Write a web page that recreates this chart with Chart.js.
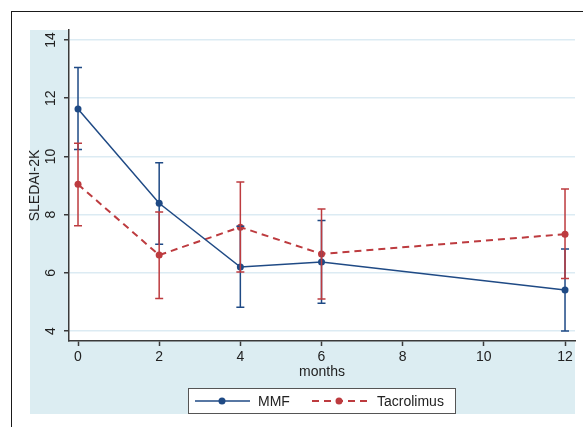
<!DOCTYPE html>
<html>
<head>
<meta charset="utf-8">
<script src="https://cdn.jsdelivr.net/npm/chart.js@4/dist/chart.umd.min.js"></script>
<style>
  html, body { margin: 0; padding: 0; background: #fff; overflow: hidden; }
  #wrap { position: relative; width: 583px; height: 427px; }
  #frame { position: absolute; left: 11px; top: 11px; width: 700px; height: 700px; border: 1px solid #1a1a1a; }
  #c { position: absolute; left: 0; top: 0; }
</style>
</head>
<body>
<div id="wrap">
  <div id="frame"></div>
  <canvas id="c" width="583" height="427"></canvas>
</div>
<script>
// data
const months = [0, 2, 4, 6, 12];
const mmfMean = [11.63, 8.39, 6.2, 6.37, 5.41];
const mmfLow = [10.24, 6.98, 4.82, 4.96, 4.0];
const mmfHigh = [13.05, 9.78, 7.6, 7.8, 6.82];
const tacMean = [9.04, 6.61, 7.57, 6.65, 7.33];
const tacLow = [7.62, 5.12, 6.03, 5.1, 5.81];
const tacHigh = [10.45, 8.09, 9.12, 8.19, 8.88];
const yTicks = [4, 6, 8, 10, 12, 14];

const NAVY = '#1f4a85';
const RED = '#bd3b3f';
const FONT = '"Liberation Sans", Arial, sans-serif';

const toPoints = (vals) => months.map((m, i) => ({ x: m, y: vals[i] }));

// error bars, drawn with the chart's own scales
const errorBars = {
    id: 'errorBars',
    afterDatasetsDraw(chart) {
        const { ctx } = chart;
        const xs = chart.scales.x, ys = chart.scales.y;
        const sets = [[mmfLow, mmfHigh, NAVY], [tacLow, tacHigh, RED]];
        ctx.save();
        sets.forEach(([lo, hi, col]) => {
            ctx.strokeStyle = col;
            ctx.lineWidth = 1.5;
            months.forEach((m, i) => {
                const px = xs.getPixelForValue(m);
                const y1 = ys.getPixelForValue(lo[i]);
                const y2 = ys.getPixelForValue(hi[i]);
                ctx.beginPath();
                ctx.moveTo(px, y1); ctx.lineTo(px, y2);
                ctx.moveTo(px - 4, y1); ctx.lineTo(px + 4, y1);
                ctx.moveTo(px - 4, y2); ctx.lineTo(px + 4, y2);
                ctx.stroke();
            });
        });
        ctx.restore();
    }
};

// graph region, rotated y labels, axis titles and legend
const decor = {
    id: 'decor',
    beforeDraw(chart) {
        const { ctx, chartArea: a } = chart;
        ctx.save();
        ctx.fillStyle = '#dcedf2';
        ctx.fillRect(30, 30, 545, 384);
        ctx.fillStyle = '#fff';
        ctx.fillRect(a.left, a.top, a.right - a.left, a.bottom - a.top);
        ctx.restore();
    },
    afterDraw(chart) {
        const { ctx, chartArea: a } = chart;
        const ys = chart.scales.y;
        ctx.save();
        ctx.fillStyle = '#222';
        ctx.font = '14px ' + FONT;
        ctx.textAlign = 'center';
        ctx.textBaseline = 'middle';
        yTicks.forEach(v => {
            ctx.save();
            ctx.translate(51, ys.getPixelForValue(v));
            ctx.rotate(-Math.PI / 2);
            ctx.fillText(String(v), 0, 0);
            ctx.restore();
        });
        ctx.save();
        ctx.translate(35, (a.top + a.bottom) / 2);
        ctx.rotate(-Math.PI / 2);
        ctx.fillText('SLEDAI-2K', 0, 0);
        ctx.restore();
        ctx.fillText('months', (a.left + a.right) / 2, 372);

        // legend
        ctx.fillStyle = '#fff';
        ctx.fillRect(188, 388, 267, 25);
        ctx.strokeStyle = '#555';
        ctx.lineWidth = 1;
        ctx.strokeRect(188.5, 388.5, 267, 25);
        const ly = 401;
        ctx.lineWidth = 1.5;
        ctx.strokeStyle = NAVY;
        ctx.beginPath(); ctx.moveTo(195, ly); ctx.lineTo(250, ly); ctx.stroke();
        ctx.fillStyle = NAVY;
        ctx.beginPath(); ctx.arc(222, ly, 3.5, 0, Math.PI * 2); ctx.fill();
        ctx.strokeStyle = RED;
        ctx.lineWidth = 2;
        ctx.setLineDash([7, 5]);
        ctx.beginPath(); ctx.moveTo(312, ly); ctx.lineTo(368, ly); ctx.stroke();
        ctx.setLineDash([]);
        ctx.fillStyle = RED;
        ctx.beginPath(); ctx.arc(339, ly, 3.5, 0, Math.PI * 2); ctx.fill();
        ctx.fillStyle = '#222';
        ctx.textAlign = 'left';
        ctx.fillText('MMF', 258, ly + 1);
        ctx.fillText('Tacrolimus', 377, ly + 1);
        ctx.restore();
    }
};

new Chart(document.getElementById('c'), {
    type: 'line',
    data: {
        datasets: [
            {
                label: 'MMF',
                data: toPoints(mmfMean),
                borderColor: NAVY,
                backgroundColor: NAVY,
                borderWidth: 1.5,
                pointRadius: 3.5,
                pointBorderWidth: 0,
                tension: 0
            },
            {
                label: 'Tacrolimus',
                data: toPoints(tacMean),
                borderColor: RED,
                backgroundColor: RED,
                borderWidth: 2,
                borderDash: [7, 5],
                pointRadius: 3.5,
                pointBorderWidth: 0,
                tension: 0
            }
        ]
    },
    options: {
        responsive: false,
        animation: false,
        devicePixelRatio: 1,
        layout: { padding: { left: 0, top: 30, right: 8, bottom: 0 } },
        plugins: { legend: { display: false }, tooltip: { enabled: false } },
        scales: {
            x: {
                type: 'linear',
                min: -0.222,
                max: 12.246,
                afterFit: (s) => { s.height = 86; },
                border: { color: '#3a3a3a', width: 1.5 },
                grid: { drawOnChartArea: false, drawTicks: true, tickLength: 5, tickColor: '#3a3a3a', tickWidth: 1.5 },
                ticks: {
                    stepSize: 2,
                    includeBounds: false,
                    padding: 3,
                    color: '#222',
                    font: { family: FONT, size: 14 }
                }
            },
            y: {
                min: 3.66,
                max: 14.34,
                afterFit: (s) => { s.width = 69; },
                border: { color: '#3a3a3a', width: 1.5 },
                grid: { color: '#dcebf3', lineWidth: 1.5, tickLength: 5, tickColor: '#3a3a3a', tickWidth: 1.5 },
                ticks: { stepSize: 2, includeBounds: false, display: false }
            }
        }
    },
    plugins: [decor, errorBars]
});
</script>
</body>
</html>
